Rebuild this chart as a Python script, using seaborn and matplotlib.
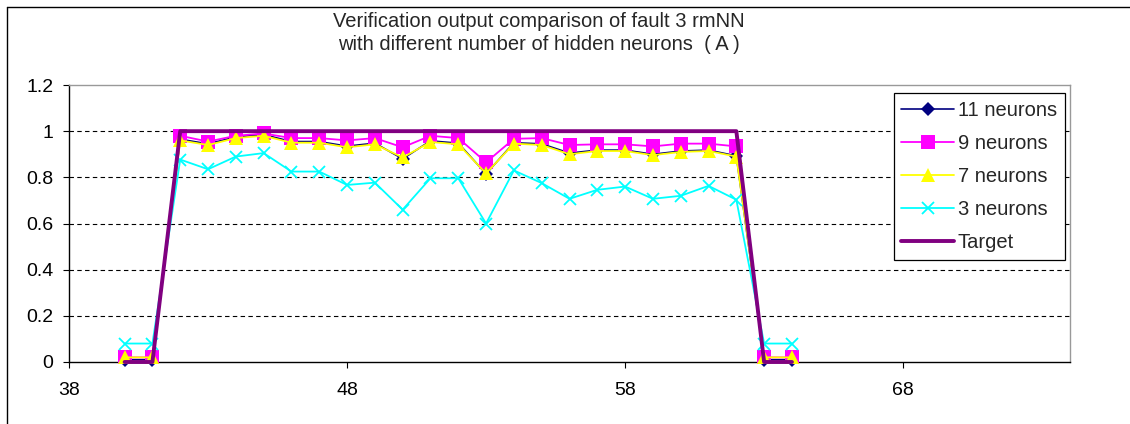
import matplotlib
matplotlib.use("Agg")
import matplotlib.pyplot as plt
import seaborn as sns
import pandas as pd
from matplotlib.lines import Line2D

# ---- data ----
x_vals = [40, 41, 42, 43, 44, 45, 46, 47, 48, 49, 50, 51, 52, 53, 54, 55, 56,
          57, 58, 59, 60, 61, 62, 63, 64]
n11 = [0.01, 0.01, 0.965, 0.945, 0.975, 0.985, 0.955, 0.955, 0.935, 0.948,
       0.88, 0.958, 0.948, 0.815, 0.95, 0.945, 0.905, 0.918, 0.918, 0.90,
       0.914, 0.918, 0.893, 0.01, 0.01]
n9 = [0.02, 0.02, 0.98, 0.955, 0.98, 0.99, 0.97, 0.97, 0.96, 0.97, 0.93, 0.98,
      0.97, 0.865, 0.967, 0.97, 0.94, 0.943, 0.943, 0.934, 0.946, 0.946, 0.934,
      0.02, 0.02]
n7 = [0.02, 0.02, 0.96, 0.94, 0.97, 0.98, 0.95, 0.95, 0.93, 0.943, 0.886,
      0.953, 0.943, 0.817, 0.946, 0.94, 0.90, 0.914, 0.914, 0.896, 0.91, 0.914,
      0.89, 0.02, 0.02]
n3 = [0.08, 0.08, 0.877, 0.835, 0.89, 0.905, 0.825, 0.825, 0.767, 0.777, 0.66,
      0.796, 0.796, 0.60, 0.83, 0.775, 0.707, 0.746, 0.76, 0.707, 0.72, 0.763,
      0.703, 0.08, 0.08]
target = [0, 0, 1, 1, 1, 1, 1, 1, 1, 1, 1, 1, 1, 1, 1, 1, 1, 1, 1, 1, 1, 1, 1,
          0, 0]
series_labels = ["11 neurons", "9 neurons", "7 neurons", "3 neurons", "Target"]
x_ticks = [38, 48, 58, 68]
y_ticks = [0, 0.2, 0.4, 0.6, 0.8, 1.0, 1.2]
y_tick_labels = ["0", "0.2", "0.4", "0.6", "0.8", "1", "1.2"]
title_text = ("Verification output comparison of fault 3 rmNN\n"
              "with different number of hidden neurons \u00a0( A )")

sns.set_style("white")
plt.rcParams['font.family'] = ['Liberation Sans', 'DejaVu Sans']

W, H = 1130, 424
fig = plt.figure(figsize=(W / 100, H / 100), dpi=100)
ax = fig.add_axes([69 / W, 1 - 362 / H, 1001 / W, 277 / H])

df = pd.DataFrame({"x": x_vals, "n11": n11, "n9": n9, "n7": n7, "n3": n3,
                   "target": target})

styles = [
    ("n11", series_labels[0], "#000080", "D", 7, 1.2),
    ("n9", series_labels[1], "#FF00FF", "s", 9.5, 1.3),
    ("n7", series_labels[2], "#FFFF00", "^", 10, 1.3),
    ("n3", series_labels[3], "#00FFFF", "x", 9, 1.3),
]
for col, lab, colr, mk, ms, lw in styles:
    sns.lineplot(data=df, x="x", y=col, ax=ax, color=colr, marker=mk,
                 markersize=ms, linewidth=lw, markeredgecolor=colr,
                 markeredgewidth=1.3 if mk == "x" else 0.0, label=lab,
                 clip_on=False, zorder=3)
sns.lineplot(data=df, x="x", y="target", ax=ax, color="#800080",
             linewidth=2.8, label=series_labels[4], clip_on=False, zorder=4)

ax.set_xlim(38, 74)
ax.set_ylim(0, 1.2)
ax.set_xticks(x_ticks)
ax.set_xticklabels([str(t) for t in x_ticks])
ax.set_yticks(y_ticks)
ax.set_yticklabels(y_tick_labels)
ax.set_xlabel("")
ax.set_ylabel("")

for yv in y_ticks[1:-1]:
    ax.axhline(yv, color="black", linewidth=0.8, linestyle=(0, (4, 3)),
               zorder=1)

for side in ["top", "right"]:
    ax.spines[side].set_color("#999999")
    ax.spines[side].set_linewidth(1.0)
for side in ["left", "bottom"]:
    ax.spines[side].set_color("black")
    ax.spines[side].set_linewidth(1.0)

ax.tick_params(axis="both", which="major", direction="out", length=4.3,
               width=0.8, color="black", labelsize=14, labelcolor="black")
ax.tick_params(axis="x", pad=10, bottom=True)
ax.tick_params(axis="y", pad=7, left=True)

leg = ax.legend(loc="upper left", bbox_to_anchor=(0.824, 0.971),
                fontsize=14.5, frameon=True, fancybox=False, shadow=False,
                edgecolor="black", framealpha=1, borderpad=0.38,
                labelspacing=0.7, handlelength=2.6, handletextpad=0.2,
                borderaxespad=0)
leg.get_frame().set_linewidth(0.9)

fig.text(539 / W, 1 - 33 / H, title_text, ha="center", va="center",
         fontsize=14.5, linespacing=1.25)

# outer chart border (left and top visible)
fig.add_artist(Line2D([6.5 / W, 6.5 / W], [0, 1 - 6.5 / H],
                      transform=fig.transFigure, color="black", lw=1))
fig.add_artist(Line2D([6.5 / W, 1], [1 - 6.5 / H, 1 - 6.5 / H],
                      transform=fig.transFigure, color="black", lw=1))

fig.savefig("out.png", dpi=100, facecolor="white")
